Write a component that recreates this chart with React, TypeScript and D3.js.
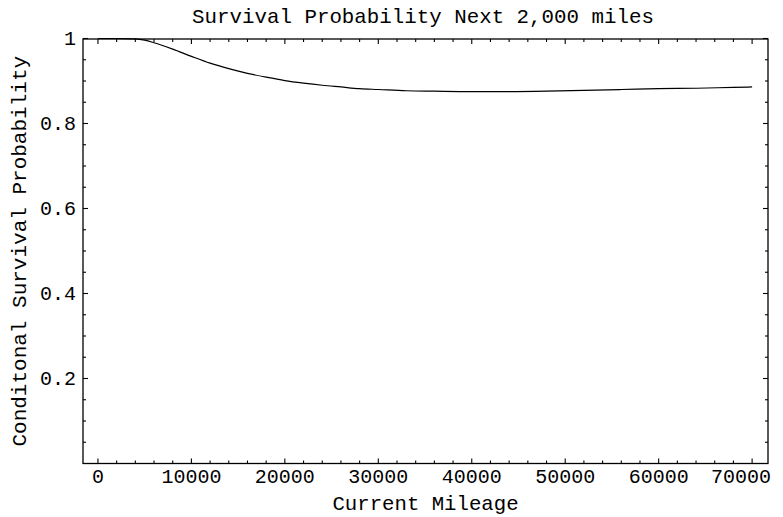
import React from "react";
import * as d3 from "d3";

const mileage = [0, 2000, 4000, 5000, 6000, 8000, 10000, 12000, 14000, 16000, 18000, 20000, 22000, 24000, 26000, 28000, 30000, 33000, 36000, 40000, 44000, 48000, 52000, 56000, 60000, 64000, 68000, 70000];
const survival = [1, 1, 0.999, 0.996, 0.99, 0.975, 0.958, 0.942, 0.929, 0.918, 0.909, 0.901, 0.895, 0.89, 0.886, 0.882, 0.88, 0.877, 0.876, 0.875, 0.875, 0.876, 0.878, 0.88, 0.882, 0.883, 0.885, 0.886];
const xMajor = [0, 10000, 20000, 30000, 40000, 50000, 60000, 70000];
const yMajor = [0.2, 0.4, 0.6, 0.8, 1];
const yMajorLabels = ["0.2", "0.4", "0.6", "0.8", "1"];
const title = "Survival Probability Next 2,000 miles";
const xTitle = "Current Mileage";
const yTitle = "Conditonal Survival Probability";

export default function App() {
  const W = 783, H = 517;
  const L = 83, R = 768, T = 39, B = 463.5;
  const x = d3.scaleLinear().domain([-1600, 71700]).range([L, R]);
  const y = d3.scaleLinear().domain([0, 1]).range([B, T - 0.5]);
  const line = d3
    .line<number>()
    .x((_, i) => x(mileage[i]))
    .y((d) => y(d))
    .curve(d3.curveMonotoneX);
  const font = "'Liberation Mono', 'DejaVu Sans Mono', monospace";
  const xMinor = d3.range(0, 71700, 2000).filter((v) => v % 10000 !== 0);
  const yMinor = d3.range(0.05, 1, 0.05).filter((v) => Math.abs(v * 5 - Math.round(v * 5)) > 1e-6);
  const maj = 5, min = 3;
  return (
    <svg width={W} height={H} style={{ position: "absolute", left: 0, top: 0, background: "#fff" }}>
      <rect x={0} y={0} width={W} height={H} fill="#fff" />
      <g stroke="#000" strokeWidth={1.1}>
        {xMajor.map((v) => (
          <g key={"xm" + v}>
            <line x1={x(v)} x2={x(v)} y1={B} y2={B - maj} />
            <line x1={x(v)} x2={x(v)} y1={T} y2={T + maj} />
          </g>
        ))}
        {xMinor.map((v) => (
          <g key={"xn" + v}>
            <line x1={x(v)} x2={x(v)} y1={B} y2={B - min} />
            <line x1={x(v)} x2={x(v)} y1={T} y2={T + min} />
          </g>
        ))}
        {yMajor.map((v) => (
          <g key={"ym" + v}>
            <line x1={L} x2={L + maj} y1={y(v)} y2={y(v)} />
            <line x1={R} x2={R - maj} y1={y(v)} y2={y(v)} />
          </g>
        ))}
        {yMinor.map((v) => (
          <g key={"yn" + v}>
            <line x1={L} x2={L + min} y1={y(v)} y2={y(v)} />
            <line x1={R} x2={R - min} y1={y(v)} y2={y(v)} />
          </g>
        ))}
      </g>
      <rect x={L} y={T} width={R - L} height={B - T} fill="none" stroke="#000" strokeWidth={1.3} />
      <path d={line(survival) || ""} fill="none" stroke="#000" strokeWidth={1.2} />
      <g fontFamily={font} fontSize={20} fill="#000">
        {xMajor.map((v) => (
          <text key={"xl" + v} x={Math.min(x(v), 741)} y={483} textAnchor="middle">
            {String(v)}
          </text>
        ))}
        {yMajor.map((v, i) => (
          <text key={"yl" + v} x={76} y={y(v) + 6} textAnchor="end">
            {yMajorLabels[i]}
          </text>
        ))}
        <text x={(L + R) / 2} y={510} textAnchor="middle" fontSize={20.7}>{xTitle}</text>
        <text transform={`translate(26,${(T + B) / 2}) rotate(-90)`} textAnchor="middle" fontSize={21}>{yTitle}</text>
        <text x={423} y={23} textAnchor="middle" fontSize={20.8}>{title}</text>
      </g>
    </svg>
  );
}
